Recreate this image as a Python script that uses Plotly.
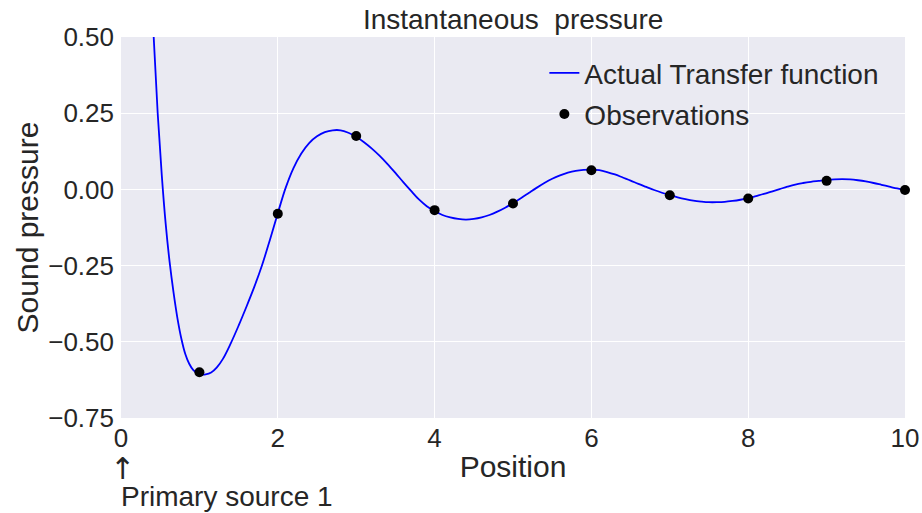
import plotly.graph_objects as go

# Curve (Actual Transfer function)
curve_x = [0.417, 0.468, 0.52, 0.57, 0.62, 0.67, 0.72, 0.77, 0.82, 0.87, 0.92, 0.97, 1.02, 1.08,
           1.15, 1.22, 1.30, 1.40, 1.50, 1.60, 1.70, 1.80, 1.90, 2.00, 2.10, 2.20, 2.30, 2.40,
           2.50, 2.60, 2.70, 2.80, 2.90, 3.00, 3.10, 3.20, 3.30, 3.40, 3.50, 3.60, 3.70, 3.80,
           3.90, 4.00, 4.10, 4.20, 4.30, 4.40, 4.50, 4.60, 4.70, 4.80, 4.90, 5.00, 5.10, 5.20,
           5.30, 5.40, 5.50, 5.60, 5.70, 5.80, 5.90, 6.00, 6.10, 6.20, 6.30, 6.40, 6.50, 6.60,
           6.70, 6.80, 6.90, 7.00, 7.10, 7.20, 7.30, 7.40, 7.50, 7.60, 7.70, 7.80, 7.90, 8.00,
           8.10, 8.20, 8.30, 8.40, 8.50, 8.60, 8.70, 8.80, 8.90, 9.00, 9.10, 9.20, 9.30, 9.40,
           9.50, 9.60, 9.70, 9.80, 9.90, 10.00]
curve_y = [0.50, 0.25, 0.047, -0.113, -0.238, -0.338, -0.423, -0.49, -0.54, -0.572, -0.592, -0.602, -0.607, -0.607,
           -0.601, -0.585, -0.556, -0.505, -0.447, -0.385, -0.320, -0.248, -0.165, -0.078, 0.005, 0.070, 0.118, 0.152,
           0.174, 0.188, 0.194, 0.194, 0.186, 0.173, 0.155, 0.134, 0.110, 0.083, 0.054, 0.024, -0.005, -0.033,
           -0.055, -0.071, -0.084, -0.092, -0.097, -0.099, -0.097, -0.092, -0.084, -0.073, -0.060, -0.045, -0.029, -0.012,
           0.005, 0.021, 0.035, 0.046, 0.055, 0.061, 0.064, 0.065, 0.063, 0.057, 0.049, 0.039, 0.029, 0.018,
           0.008, -0.002, -0.011, -0.019, -0.026, -0.032, -0.037, -0.040, -0.042, -0.042, -0.041, -0.038, -0.034, -0.029,
           -0.022, -0.015, -0.007, 0.001, 0.009, 0.016, 0.021, 0.025, 0.028, 0.031, 0.033, 0.034, 0.033, 0.030,
           0.026, 0.021, 0.015, 0.009, 0.003, -0.002]

# Observations
obs_x = [1, 2, 3, 4, 5, 6, 7, 8, 9, 10]
obs_y = [-0.60, -0.08, 0.175, -0.068, -0.046, 0.063, -0.019, -0.030, 0.028, -0.002]

x_ticks = [0, 2, 4, 6, 8, 10]
y_ticks = [-0.75, -0.50, -0.25, 0.00, 0.25, 0.50]
y_tick_labels = ["\u22120.75", "\u22120.50", "\u22120.25", "0.00", "0.25", "0.50"]

TXT = "#262626"
FONT = "Liberation Sans, Arial, sans-serif"

fig = go.Figure()
fig.add_trace(go.Scatter(
    x=curve_x, y=curve_y, mode="lines", name="Actual Transfer function",
    line=dict(color="#0000FF", width=1.8, shape="spline", smoothing=1.0),
    legend="legend",
))
fig.add_trace(go.Scatter(
    x=obs_x, y=obs_y, mode="markers", name="Observations",
    marker=dict(color="black", size=10), cliponaxis=False,
    legend="legend2",
))

fig.update_layout(
    width=922, height=513,
    margin=dict(l=121, r=17, t=37, b=95, autoexpand=False),
    paper_bgcolor="white", plot_bgcolor="#EAEAF2",
    font=dict(family=FONT, color=TXT, size=26),
    title=dict(text="Instantaneous\u00a0 pressure", x=0.5565, xanchor="center",
               y=0.963, yanchor="middle", font=dict(size=28, color=TXT)),
    xaxis=dict(range=[0, 10], tickvals=x_ticks, ticktext=[str(v) for v in x_ticks],
               showgrid=True, gridcolor="white", gridwidth=1, zeroline=False,
               showline=False, ticks="", tickfont=dict(size=26, color=TXT),
               ticklabelstandoff=2, automargin=False,
               title=dict(text="Position", font=dict(size=30, color=TXT), standoff=3)),
    yaxis=dict(range=[-0.75, 0.5], tickvals=y_ticks, ticktext=y_tick_labels,
               showgrid=True, gridcolor="white", gridwidth=1, zeroline=False,
               showline=False, ticks="", tickfont=dict(size=26, color=TXT),
               ticklabelstandoff=6, automargin=False,
               title=dict(text="Sound pressure", font=dict(size=30, color=TXT), standoff=0)),
    legend=dict(x=0.54, y=0.905, xanchor="left", yanchor="middle", bgcolor="rgba(0,0,0,0)",
                font=dict(size=28, color=TXT)),
    legend2=dict(x=0.54, y=0.797, xanchor="left", yanchor="middle", bgcolor="rgba(0,0,0,0)",
                 font=dict(size=28, color=TXT)),
    showlegend=True,
)

fig.add_annotation(x=0, xref="x", y=-0.132, yref="paper", xanchor="center", yanchor="middle",
                   text="\u2191", showarrow=False,
                   font=dict(family="DejaVu Sans, sans-serif", size=30, color=TXT), xshift=1)
fig.add_annotation(x=0, xref="x", y=-0.205, yref="paper", xanchor="left", yanchor="middle",
                   text="Primary source 1", showarrow=False, font=dict(size=28, color=TXT), xshift=-2)

fig.write_html("out.html")
